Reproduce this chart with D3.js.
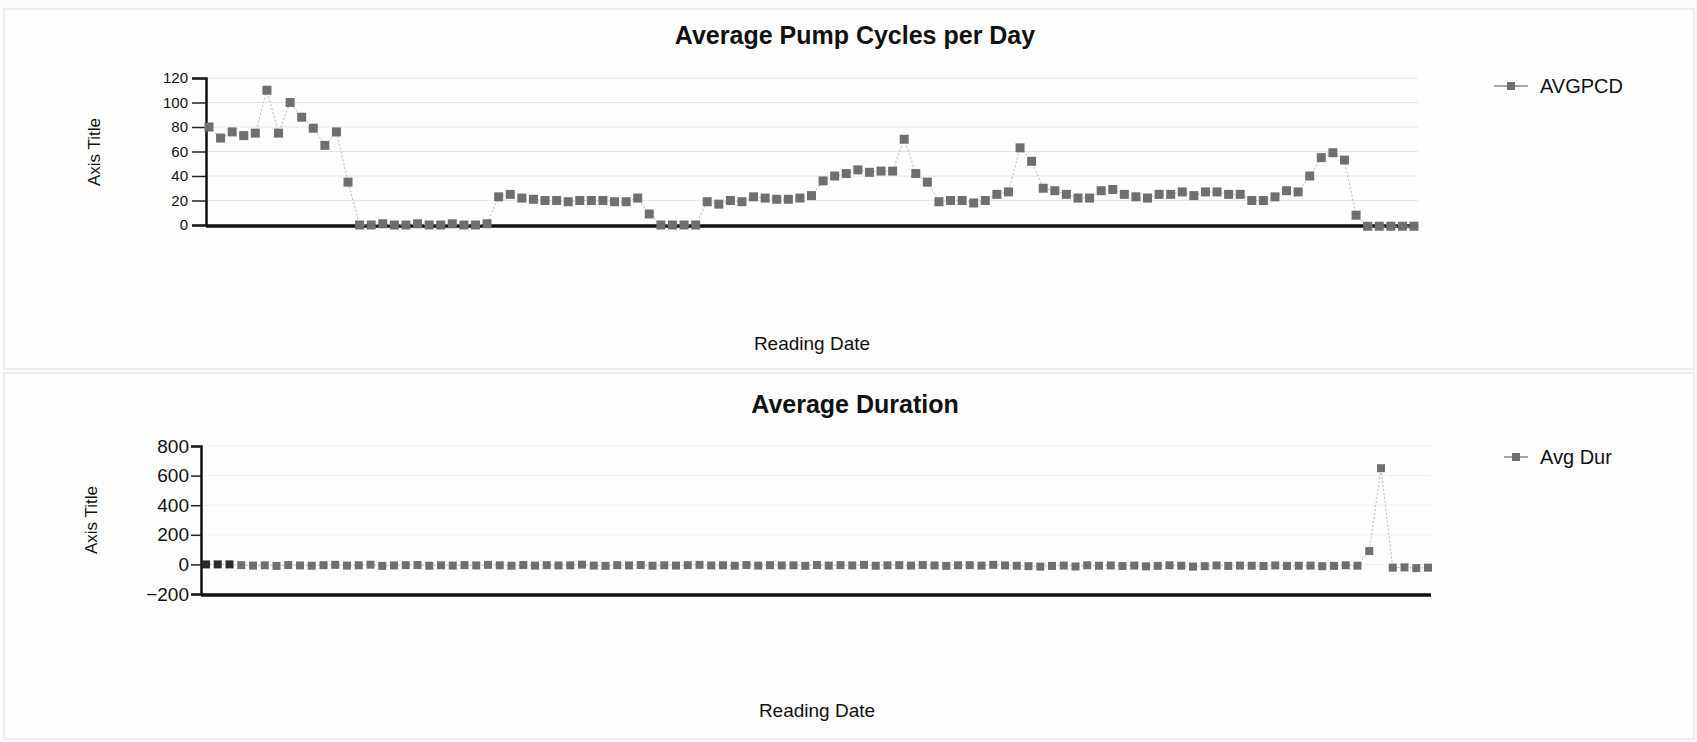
<!DOCTYPE html>
<html>
<head>
<meta charset="utf-8">
<script src="https://cdn.jsdelivr.net/npm/d3@7"></script>
<style>
  body { margin: 0; background: #fcfcfc; }
  text { font-family: "Liberation Sans", Arial, sans-serif; fill: #111; }
  .title { font-weight: bold; }
</style>
</head>
<body>
<svg id="chart" width="1697" height="742"></svg>
<script>
// average pump cycles per day, one value per reading
const avgpcdValues = [
  80, 71, 76, 73, 75, 110, 75, 100, 88, 79, 65, 76, 35,
  0, 0, 1, 0, 0, 1, 0, 0, 1, 0, 0, 1,
  23, 25, 22, 21, 20, 20, 19, 20, 20, 20, 19, 19, 22,
  9, 0, 0, 0, 0,
  19, 17, 20, 19, 23, 22, 21, 21, 22, 24,
  36, 40, 42, 45, 43, 44, 44,
  70, 42, 35,
  19, 20, 20, 18, 20, 25, 27,
  63, 52,
  30, 28, 25, 22, 22, 28, 29, 25, 23, 22, 25, 25, 27, 24, 27, 27, 25, 25, 20, 20, 23, 28, 27,
  40, 55, 59, 53, 8,
  -1, -1, -1, -1, -1
]

// average duration, one value per reading
const avgDurValues = [
  0, 0, 0, -5, -8, -6, -10, -4, -7, -9,
  -5, -3, -8, -6, -2, -10, -7, -5, -4, -9,
  -6, -8, -5, -7, -3, -6, -9, -4, -8, -5,
  -7, -6, -2, -8, -10, -5, -7, -4, -9, -6,
  -8, -5, -3, -7, -6, -9, -4, -8, -5, -7,
  -6, -10, -4, -8, -5, -7, -3, -9, -6, -5,
  -8, -4, -7, -10, -6, -5, -8, -3, -7, -9,
  -12, -15, -10, -8, -14, -6, -9, -7, -11, -8,
  -13, -10, -6, -9, -15, -12, -7, -10, -8, -9,
  -11, -7, -10, -9, -8, -12, -10, -6, -9,
  90, 650, -22, -20, -25, -22
]

const pumpTicks = [0, 20, 40, 60, 80, 100, 120]
const durTicks = [-200, 0, 200, 400, 600, 800]

const svg = d3.select('#chart')

// the two panels
svg.append('rect')
  .attr('x', 4).attr('y', 9).attr('width', 1690).attr('height', 360)
  .attr('fill', '#fdfdfd').attr('stroke', '#dedede')
svg.append('rect')
  .attr('x', 4).attr('y', 373).attr('width', 1690).attr('height', 366)
  .attr('fill', '#fdfdfd').attr('stroke', '#dedede')

function drawPanel(opts) {
  const g = svg.append('g')

  const xscale = d3.scaleLinear()
    .domain([0, opts.values.length - 1])
    .range([opts.firstX, opts.lastX])

  const yscale = d3.scaleLinear()
    .domain(d3.extent(opts.ticks))
    .range([opts.bottom, opts.top])

  // gridlines
  g.append('g')
    .selectAll('line')
    .data(opts.ticks)
    .enter()
    .append('line')
    .attr('x1', opts.left)
    .attr('x2', opts.right)
    .attr('y1', (d) => yscale(d))
    .attr('y2', (d) => yscale(d))
    .attr('stroke', opts.gridColor)
    .attr('stroke-width', 1)

  const leftAxis = d3.axisLeft(yscale)
    .tickValues(opts.ticks)
    .tickSize(opts.tickSize)
    .tickPadding(opts.tickPad)
  const yAxis = g.append('g')
    .attr('transform', `translate(${opts.left}, 0)`)
    .call(leftAxis)
  yAxis.select('.domain').attr('stroke', '#111').attr('stroke-width', 2.5)
  yAxis.selectAll('.tick line').attr('stroke', '#222').attr('stroke-width', 1.5)
  yAxis.selectAll('.tick text')
    .style('font-size', opts.tickFont + 'px')
    .style('font-family', '"Liberation Sans", Arial, sans-serif')
    .attr('fill', '#111')

  // x axis without labels
  g.append('line')
    .attr('x1', opts.left)
    .attr('x2', opts.right)
    .attr('y1', yscale(opts.ticks[0]) + 1)
    .attr('y2', yscale(opts.ticks[0]) + 1)
    .attr('stroke', '#111')
    .attr('stroke-width', 3.5)

  const line = d3.line()
    .x((d, i) => xscale(i))
    .y((d) => yscale(d))

  g.append('path')
    .datum(opts.values)
    .attr('d', line)
    .attr('fill', 'none')
    .attr('stroke', '#b8b8b8')
    .attr('stroke-width', 1)
    .attr('stroke-dasharray', '2,2')

  g.append('g')
    .selectAll('rect')
    .data(opts.values)
    .enter()
    .append('rect')
    .attr('x', (d, i) => xscale(i) - opts.marker / 2)
    .attr('y', (d) => yscale(d) - opts.marker / 2)
    .attr('width', opts.marker)
    .attr('height', opts.marker)
    .attr('fill', (d, i) => (opts.darkFirst && i < 3) ? '#2a2a2a' : '#6f6f6f')

  g.append('text')
    .attr('class', 'title')
    .text(opts.title)
    .attr('x', 855)
    .attr('y', opts.titleY)
    .attr('text-anchor', 'middle')
    .style('font-size', '25px')

  g.append('text')
    .text('Axis Title')
    .attr('transform', `translate(${opts.axisTitleX}, ${opts.axisTitleY}) rotate(-90)`)
    .attr('text-anchor', 'middle')
    .style('font-size', '17px')

  g.append('text')
    .text('Reading Date')
    .attr('x', opts.dateX)
    .attr('y', opts.dateY)
    .attr('text-anchor', 'middle')
    .style('font-size', '19px')

  // legend
  const legend = g.append('g')
    .attr('transform', `translate(${opts.legendX}, ${opts.legendY})`)
  legend.append('line')
    .attr('x1', 0).attr('x2', opts.legendLine)
    .attr('stroke', '#888').attr('stroke-width', 1.5)
  legend.append('rect')
    .attr('x', opts.legendLine / 2 - 4).attr('y', -4).attr('width', 8).attr('height', 8)
    .attr('fill', '#6f6f6f')
  legend.append('text')
    .text(opts.legend)
    .attr('x', opts.legendLine + 12)
    .attr('y', 7)
    .style('font-size', '20px')
}

drawPanel({
  title: 'Average Pump Cycles per Day',
  titleY: 44,
  values: avgpcdValues,
  ticks: pumpTicks,
  left: 206, right: 1418,
  firstX: 209, lastX: 1414,
  top: 78, bottom: 225,
  tickSize: 14, tickPad: 4, tickFont: 15,
  gridColor: '#e6e6e6',
  marker: 9,
  axisTitleX: 100, axisTitleY: 152,
  dateX: 812, dateY: 350,
  legend: 'AVGPCD', legendX: 1494, legendY: 86, legendLine: 34
})

drawPanel({
  title: 'Average Duration',
  titleY: 413,
  values: avgDurValues,
  ticks: durTicks,
  left: 201, right: 1431,
  firstX: 206, lastX: 1428,
  top: 446, bottom: 594,
  tickSize: 10, tickPad: 2, tickFont: 19,
  gridColor: '#f0f0f0',
  marker: 8,
  darkFirst: true,
  axisTitleX: 97, axisTitleY: 520,
  dateX: 817, dateY: 717,
  legend: 'Avg Dur', legendX: 1504, legendY: 457, legendLine: 24
})
</script>
</body>
</html>
